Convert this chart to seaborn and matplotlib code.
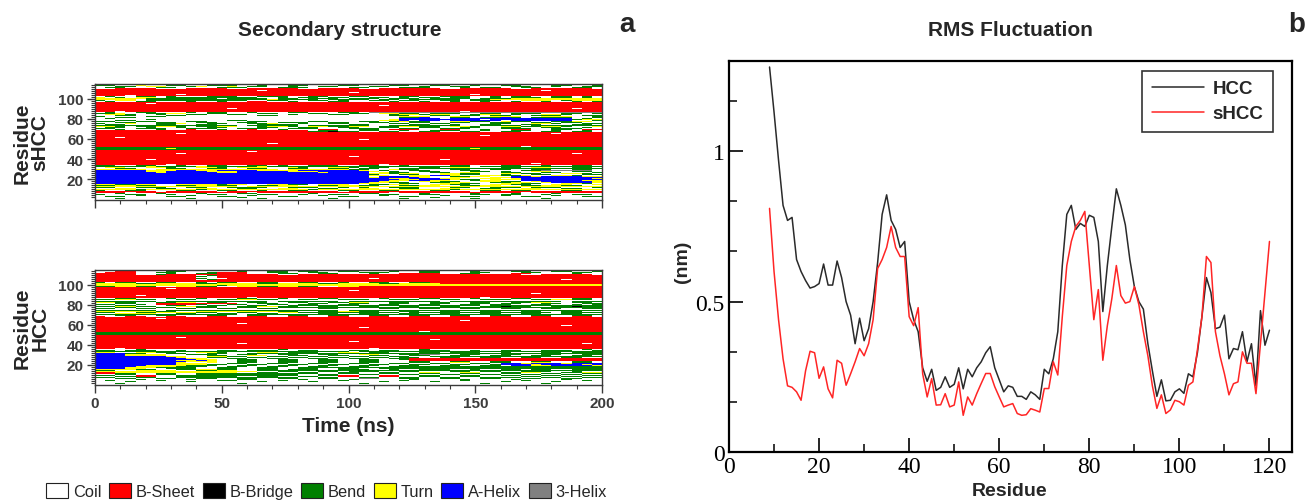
import numpy as np
import pandas as pd
import matplotlib
matplotlib.use("Agg")
import matplotlib.pyplot as plt
from matplotlib.colors import ListedColormap
from matplotlib.patches import Patch
import seaborn as sns

# ---------------------------------------------------------------- data
SS_CODES = ["C", "E", "B", "S", "T", "H", "G"]
SS_NAMES = ["Coil", "B-Sheet", "B-Bridge", "Bend", "Turn", "A-Helix", "3-Helix"]
SS_COLORS = ["#FFFFFF", "#FF0000", "#000000", "#008000", "#FFFF00", "#0000FF", "#808080"]

TIME_MAX_NS = 200
RESIDUE_TOP = 114
RESIDUE_TICKS = [20, 40, 60, 80, 100]
TIME_TICKS = [0, 50, 100, 150, 200]

# DSSP assignment per residue (first row = residue 114, last row = residue 0),
# each row holds 50 frames of 4 ns written in blocks of ten.
SHCC_ROWS = [
    "CCSCCCCCCC CCSSCCCCSC CCCCCSCCCC CSCCCCCCSC CCCSCCCCCS",  # 114
    "SSCCTCCSSC CSSSCCSCCS SCCCSSCCCS SCCSSCCSCC SSCCCSSCCS",
    "CCSSCTTCCS TCCTCSSCCS CCSSCCCSSC CCSCCSSCCC CSSCCSCCSS",
    "CSSCCCSSCC CCSSSCCCSS SCCCCSSCCC SSSCCCSCSS CCSSCCCSSC",
    "CCEEEECCCE EEECCEEEEE CCEEEECCEE EEEECCEEEE ECCEEEEEEC",  # 110
    "EEEEEEEEEE EEEEEEEEEE EEEEEEEEEE EEEEEEEEEE EEEEEEEEEE",
    "EEEEEEEEEE EEEEEECEEE EEEEEEEEEE EEEEEEEEEE EEEECEEEEE",
    "EEEEEEEEEE EEEEEEEEEE EEEEEEEEEE EEEEEEEEEE EEEEEEEEEE",
    "EEEEEEEEEE EEEEEEEEEE EEEEECEEEE EEEEEEEEEE EEEEEEEEEE",
    "EEEEEEEEEE EEEEEEEEEE EEEEEEEEEE EEEEEEEEEE EEEEEEEEEE",  # 105
    "EEEEEEEECE EEEEEEEEEE EEEEEEEEEE EEEEEEECEE EEEEEEEEEE",
    "EEECEEEEEE EEEEEEEEEE EEEEEEEEEE EEEEEEEEEE EEEEEEEEEE",
    "CSCCSSCSCC CSSSCCSSSC CSSCCSSCCC SSCCSSSCCS CSSCCSSCSC",
    "TCSCTTCSSS SSSSSSCCSC SSCSSCCSSC SCSSCSSCCS CSSSCSSCSC",
    "TTTTTSSSSS SSCSSSSCSS CSSSCSSSCS SSCSSSSCSS STTTTTTTTT",  # 100
    "TTTTCSSSSS SSSSSSSTSS SSCSSSSCSS CSSSSSCSST TTTTTTTTTT",
    "SCTTCSSSSS SSSSSCCSSC CSSCSCCSSC SSCCSSCSSS CCTTTCSTTT",
    "CSCCSSCCCS CCSCCEECCS CCCSSCCCCS CCSCCSCCSC CSCCSCCSCS",
    "EEEEEEEEEE EEEEEEEEEE EEEEEEEEEE EEEEEEEEEE EEEEEEEEEE",
    "EEEEECEEEE EEEEEEEEEE EEEEEEEEEE EEEEEEEEEE EEEEEEEEEE",  # 95
    "EEEEEEEEEE EEEEEEEEEE EEEEEEEEEE EEEEEEEEEE EEEEEEEEEE",
    "EEEEEEEEEE EEEEEEEEEE EEEEEEEECE EEEEEEEEEE EEEEEEEEEE",
    "EEEEEEEEEE EEEEEEEEEE EEEEEEEEEE EEEEEEEEEE EEEEEEEEEE",
    "EEEEEEEEEE EEEEEEEEEE EEEEEEEEEE EEEEEEEEEE EEEEEEEEEE",
    "EEEEEEEEEE EEECEEEEEE EEEEEEEEEE EEEEEEEEEE EEEEEEECEE",  # 90
    "EEEEEEEEEE EEEEEEEEEE EEEEEEEEEE EEEEEEEEEE EEEEEEEEEE",
    "EEEEEEEEEE EEEEEEEEEE EEEEEEEEEE EEEEEEEEEE EEEEEEEEEE",
    "EECEEEEEEE EEEEEEEEEE EEEEEEEEEE EEEEEECEEE EEEEEEEEEE",
    "CSCCSSCCCS CSSCCSCCCS SCCCSSCGGG GGGGGGGGGG GGGGGGGGGG",
    "SSTCCSSTTC CSSCCCSSCC CSSCCSSCTT SSCSSSCCSS CSSSCCSSCS",  # 85
    "CTTSCCSCCS SCCSSCCCCS CCCSSCCCCS TTSTTCCSTT CSCCTTSCCC",
    "CCSSCCCSSC CCCCCCSSCC CCCCCCCCCS SCCSSCSSCS SCCSSSCCSS",
    "SCCCCSSCCC CCCCCCCCCC CCCCCCCCCC TTTCCTTCCT TTCCTTTCCS",
    "CCSSCCCCCC CCCCCCCCCC CCCCCCCCCC SSHCCSSCSS HSCSSSSCCS",
    "CSCCCCCCCC CCCCCCCCCC CCCCCCCCCC HHHHCHHHHH HHHHHHHCSC",  # 80
    "CCCCCSCCCC CCCCCCCCCC CCCCCCCCCT HHHHHHHHCH HHHHHHHSTT",
    "CCSSCCCCCC CCCSSCCCCC CCCCCCCCTT HCHHCHHHHH CHHHHHHCCS",
    "SSCCSSCCCS SCCCCSSCCC CSSCCCSSCS TSSCCTTSSC TSSCCSSTTC",
    "CCSSCCSSCC SSCCSSCCSS SCCSSCCSSC CSSCCSSCCS SCCSSCSSCC",
    "SCCTCCSSTC CSSCCSSTCC SCCSSCCCCS SCCSSCCCCS SCCTTSCCSS",  # 75
    "CSSCCCSSCC SSCCCCSSSS CCCCCSSCCC CSSCCSCCSS CCSSCCCSSC",
    "SSSSSSSSSS SSSSCSSSSS CSSSSSSCCS SSSSSSCCSS SSCSSSSSSS",
    "TTSCSSTTSC SSTTCCSTTS CTTSSTTCSS TTSSCTTSCC TTSSTTSCCT",
    "CSSCCSCCSC CSSCCCSSCC SSCCSSCCSS CCSSCCSSCC SSCCSSCCSC",
    "SSCCSSSCCS SSCCSSSCCS SSCCCSSSCC SSCCSSSCCC SSSCCSSSCC",  # 70
    "CCSCCCSCCE CCSCCECCSC CCEECCSSCE EECCEECCSC CEECCSSCEE",
    "EEEEEEEEEE EEEEEEEEEE ECSSCCSSCC SCCSSSCCSC CSSCCSCCSC",
    "EEEEEEEEEE EEEEEEEEEE ESSBSSCCSS CCSSCCSSCC SSCCSSCSSC",
    "EEEEEEEEEE EEEEEEEEEE EEEEEEEEEE EEEEEEEEEE EEEEEEEEEE",
    "EEEEEEEECE EEEEEEEEEE EEEEEEEEEE EEEEEEEEEE EEEEECEEEE",  # 65
    "EEEEEEEEEE EEEEEEEEEE EEEEEEEEEE EEEEEEEEEE EEEEEEEEEE",
    "EEEEEEEEEE EEEEEEEEEE EEEEEEEEEE EEEEEEEECE EEEEEEEEEE",
    "EEEEEEEEEE EEEEEEEEEE EEEEEEEEEE EEEEEEEEEE EEEEEEEEEE",
    "EECEEEEEEE EEEEEEEEEE EEEEEEEEEE EEEEEEEEEE EEEEEEEEEE",
    "EEEEEEEEEE EEEEEEEEEE EEEEEEEEEE EEEEEEEEEE EEEEEEEEEE",  # 60
    "EEEEEEEEEE EEEEEEEEEE EEEEEECEEE EEEEEEEEEE EEEEEEEEEE",
    "EEEEEEEEEE EEEEEEEEEE EEEEEEEEEE EEEEEEEEEE EEEEEEEEEE",
    "EEEEEEEEEE EEEEEEEEEE EEEEEEEEEE EEEEEEEEEE EEEEEEEEEE",
    "EEEEEEEEEE EEEEEEECEE EEEEEEEEEE EEEEEEEEEE EEEEEEEEEE",
    "EEEEEEEEEE EEEEEEEEEE EEEEEEEEEE EEEEEEEEEE EEEEEEEEEE",  # 55
    "EEEEEEEEEE EEEEEEEEEE EEEEEEEEEE EEEEEEEEEE EEEEEEEEEE",
    "EEEEEEEEEE EEEEEEEEEE EEEEEEEEEE EEEEEEEEEE EECEEEEEEE",
    "SSSSSSSSSS SSSSSSSSSS SSSSSSSSSS SSSSSSSSSS SSSSSSSSSS",
    "SSSSSSSTSS SSSSSSSSSS SSSSSSSSSS SSSSSSSTSS SSSSSSSSSS",
    "SSSSSSSSSS SSSSSSSSSS SSSSSSSSSS SSSSSSSSSS SSSSSSSSSS",  # 50
    "EEEEEEEEEE EEEEEEEEEE EEEEEEEEEE EEEEEEEEEE EEEEEEEEEE",
    "EEEEEEEEEE EEEEECEEEE EEEEEEEEEE EEEEEEEEEE EEEEEEEEEE",
    "EEEEEEEEEE EEEEEEEEEE EEEEEEEEEE EEEEEEEEEE EEEEEEEEEE",
    "EEEEEEEECE EEEEEEEEEE EEEEEEEEEE EEEEEEEEEE EEEEEEECEE",
    "EEEEEEEEEE EEEEEEEEEE EEEEEEEEEE EEEEEEEEEE EEEEEEEEEE",  # 45
    "EEEEEEEEEE EEEEEEEEEE EEEEEEEEEE EEEEEEEEEE EEEEEEEEEE",
    "EEEEEEEEEE EEEEEEEEEE EEEEECEEEE EEEEEEEEEE EEEEEEEEEE",
    "EEEEEEEEEE EEEEEEEEEE EEEEEEEEEE EEEEEEEEEE EEEEEEEEEE",
    "EEEEEEEEEE EEEEEEEEEE EEEEEEEEEE EEEEEEEEEE EEEEEEEEEE",
    "EEEEECEEEE EEEEEEEEEE EEEEEEEEEE EEEECEEEEE EEEEEEEEEE",  # 40
    "EEEEEEEEEE EEEEEEEEEE EEEEEEEEEE EEEEEEEEEE EEEEEEEEEE",
    "EEEEEEEEEE EEEEEEEEEE EEEEEEEEEE EEEEEEEEEE EEEEEEEEEE",
    "EEEEEEEEEE EEEEEEEEEE EEEEEEEEEE EEEEEEEEEE EEEEEEEEEE",
    "EEEEEEEEEE EEEEEEEEEE EEEEEEEEEE EEEEEEEEEE EEECEEEEEE",
    "EEEEEEECEE EEEEEEEEEE EEEEEEEECE EEEEEEEEEE EEEEEEEEEE",  # 35
    "SSCCSSCCSC CSSCCSSCSC CSSSCCSSCC SCCCCSSCCC SSCCSCCSSC",
    "SSSSSTSSSS TSSSSSTSSS SSSSSSSSSS SSSSSSSCSS SSSSSSSSSS",
    "CTTCCTTSCC TTSCTTTCCT SCCTTSCSSC CCSSCTTCCC SSCTTCCSSC",
    "CCSSCCCSSC CSSCCSSCCS SCCSSCSSCC SSSSSSSSSS SSSSSSSSSS",
    "TTTTTCTTTT TTTTTTTTCT TTTTTSSCCT SSCCCSSCCS SCCSSCCSSC",  # 30
    "HHHHHTTTHH TTHHHHTTTT HHHHHHTCSC CSSCCCSSCC CCSSGGGGGC",
    "HHHHHTTHHH HTTTHHHHHT TTHHHHHTCS CCSSCCCSSC SCCTTCCSSC",
    "HHHHHHTHHH HHTTHHHHHH HHTHHHHCTS SCCSSCTTCC SSCCSSCCCS",
    "HHHHHHHHHH HHHHHHHHHH HHHHHHHTTS TTCCTTSSCC TTSSCCTTSC",
    "HHHHHHHHHH HHHHHHHHHH HHHHHHHSCC SSCCTTSSCC SCCSSCCCSS",  # 25
    "HHHHHHHHHH HHHHHHHHHH HHHHHHHTTC CTTHHTCCTT SSTCCTTSCC",
    "HHHHHHHHHH HHHHHHHHHH HHHHHHHCHH HTTCCSSTTC CHHTHHHHTT",
    "HHHHHHHHHH HHHHHHHHHH HHHHHHHTHH HHTCCTTCCT THHHHHHHHH",
    "HHHHHHHHHH HHHHHHHHHH HHHHHHHHHT THHHTTCCTT CTHHHHHHHT",
    "HHHHHHHHHH HHHHHHHHHH HHHHHHHHHH TTHHHTSSCT TTHHHHHHHH",  # 20
    "HHHHHHHHHH HHHHHHHHHH HHHHHHHHHT THHTTCCSTT CCHHHHHHTT",
    "HHHHHHHHHH HHHHHHHHHH HHHHHHHHTT CCTTSSCCTT SSCTHHHHHT",
    "HHHHHHHHHH HHHHHHHHHH HHHHHHHTTS SCCSSTTCCS STTCTHHHHT",
    "HHHHHHHHHH HHHHHHHHHH HHHHHHTTCC SSCCTTSSCC TTSSCCTTSC",
    "TTSSTTCCTT TTSTTCCTTS SCTTTCCSST TCCTTSSCCT TSSCCTTCCT",  # 15
    "SSTTSSCCSS TTSSCCSSTT CCSSTTSSCC SSTTCCSSTT CCSSTTSSCC",
    "TTTTTTTTTT TTTTCTTTTT TTTTTTTTTT TTTTTTTTTT TTTTTTTTTT",
    "SSCCSSSCCS SCCSSSSCCS SSCCSCSCCS SSCCCSSCCS SSCSSSCCCS",
    "CCTTCCSSCC TTCCSSCCTT CCSSCCTTCC SSCCTTCCSS CCTTCCSSCC",
    "TTTTSTTTTT STTTTTTTTT TSTTTTTTTT TTTTTSTTTT TTTTTTTTTT",  # 10
    "SCCSSCCCSS CCSSCCSCCS SCCCSSCCSS CCCSSCCCSS CSSCCCSSCC",
    "EEEEEECEEE EECEEEEEEE EEEECEEEEE EEEEEEECEE EEEEEEEEEE",
    "EEECEEEEEE EEEEECEEEE EEEEEEEEEC EEEEEEEEEE EECEEEEEEE",
    "CCSCCCSCCC SCCCSSCCCC CSCCCCSSCC CCSCCCCSCC CSCCCSCCCC",
    "SCCSSCCSCC CSSCCCSSCC SCCSSCCCSS CCSSCCCSSC SSCCSCCSSC",  # 5
    "CCCCSCCCCS CCCCCSCCCC CCSCCCCCSC CCCCSCCCCC SCCCCSCCCC",
    "CSSCCCCSSC CCSSCCCCSS CCCCSSCCCC SSCCCCSSCC CCSSCCCCSS",
    "CCCCCCCCCC CCCCSCCCCC CCCCCCCCCC CCCSCCCCCC CCCCCCCCCC",
    "CCSCCCCCCS CCCCCCSCCC CCCSCCCCCC SCCCCCCSCC CCCCSCCCCC",
    "CCCCCCCCCC CCCCCCCCCC CCCCCCCCCC CCCCCCCCCC CCCCCCCCCC",  # 0
]

HCC_ROWS = [
    "CCCCSCCCCC SSCCCCCSCC CCCSCCCCCC CCSCCCCCCC SCCCCCCSCC",  # 114
    "CCEECCCSSC CCCCSCCSSC SSCCSSCCCS CCSSCCCSCC CSSCCSSCCS",
    "CEEECCSSCC CSEEECCSSC CSSCCCSSSC CCSSCCCSSC CCSSCCCSSC",
    "EEEECCCSCC SSEEECCCSS CCSSCCCSCC EEEECCSSCC CEECCCCSCC",
    "EEEECCSEEE EEEEEEEECC EEEEEEEEEE EEEEEEEEEE EECCEEEEEC",  # 110
    "EEEEEEEEEE CSEEEEEEEE EEEEEEEEEE EEEEEEEEEE EEEEEEEEEE",
    "EEEEEEEEEE SCEEEEEEEE EEEEEEEEEE EEEEEEEEEE EEEEEEEEEE",
    "EEEEEEEEEE CCEEEEEEEE EEEEEEEEEE EEEEEEEEEE EEEEEEEEEE",
    "EEEEEEEEEE SCCEEEEEEE EEEEEEECEE EEEEEEEEEE EEEEEEEEEE",
    "EEEEEEEEEE CSEEEEEEEE EEEEEEEEEE EEEEEEEEEE EEEEEECEEE",  # 105
    "EEEEEEEEEE EEEEEEEEEE EEEEEEEEEE EEEEEEEEEE EEEEEEEEEE",
    "EEEEEEEEEE EEEEEEEEEE EEEEEEEEEE EEEEEEEEEE EEEEEEEEEE",
    "SCSSCCSSCC SCSSCCSSCC SSCCSCCSSC CSSEEEEEEE EEEEEEEEEE",
    "TTTTSSTTTT SSTTTTSSTT TTSSTTTTSS TTTTEEEEEE EEEEEEEEEE",
    "TTTTTTTTTT TTTTTTTTTT TTTTTTTTTT TTTTTTTTTT TTTTTTTTTT",  # 100
    "TTTTTTTTTT TTSTTTTTTT TTTTTTTTTT TTTTTTTTTT TTTTTTTTTT",
    "SSTTSSCCTT SSCCTTSSTT SSCCTTEEEE EEEEEEEEEE EEEEEEEEEE",
    "EEEEEEEEEE EEEEEEEEEE EEEEEEEEEE EEEEEEEEEE EEEEEEEEEE",
    "EEEEEEECEE EEEEEEEEEE EEEEEEEEEE EEEEEEEEEE EEEEEEEEEE",
    "EEEEEEEEEE EEEEEEEEEE EEEEEEEEEE EEEEEEEEEE EEEEEEEEEE",  # 95
    "EEEEEEEEEE EEEEEEEEEE EEEEECEEEE EEEEEEEEEE EEEEEEEEEE",
    "EEEEEEEEEE EEEEEEEEEE EEEEEEEEEE EEEEEEEEEE EEEEEEEEEE",
    "EEEEEEEEEE EEEEEEEEEE EEEEEEEEEE EEEEEEEEEE EEEEEEEEEE",
    "EEEEEEEEEE EEEEEEEEEE EEEEEEEEEE EEEEEEEEEE EEECEEEEEE",
    "EEEEEEEEEE EEEEEEEEEE EEEEEEEEEE EEEEEEEEEE EEEEEEEEEE",  # 90
    "EEEECEEEEE EEEEEEEEEE EEEEEEEEEE EEEEEEEEEE EEEEEEEEEE",
    "EEEEEEEEEE EEEEEEEEEE EEEEEEEEEE EEEEEEEEEE EEEEEEEEEE",
    "EEEEEEEEEE EEEEECEEEE EEEEEEEEEE EEEEEEEECE EEEEEEEEEE",
    "CCSSCCCSCC SCCCSSCCSC CCSSCCCCSC CCSSCCCSCC CSSCCCCSSC",
    "SSTTSSCCSS CCSSTTSSCC SSCCSSSCCS SSCCSSCCSS SCCSSTTSSC",  # 85
    "CCCCCCCCCC CCCCCCCCCC CCCCCCCCCC CCCCCCCCCC CCCCCCCCCC",
    "SSSSSSCSSS SSSSSSSCSS SSSSCSSSSS SSSSCSSSSS SSSSSSCSSS",
    "TTSSCCSSTT CSSCCSSCCS SCCSSTTCCS SCCSSCCSSC CSSTTCCSSC",
    "CCSSCCEEEE EEEECCSSCC CSSCCSSCCS SCCSSCCSSC SSCCSSCCSS",
    "SSCCSCEEEE SCCSSCCSSC SSCCSSCCSS CCSSCCSSCS SCCSSCCSCS",  # 80
    "CCSSCCCSSC CSSCCSSCCS SSSSSSSSSS SSSSSSSSCS SSSSSSSSSS",
    "SSTTSSCCTT SSCCSSTTSS CCSSCCSSCC SSCCSSCCSS BSSCCSSBSS",
    "CCSSCCSSCC SSCCSSCCSS SSSSSSSSSS SSSSSSSSSS SSSSSSSSSS",
    "SSCCSSCCSS CCSSCCSSCC CCSSCCCCSS CCSSCCSSCC SSCCSSCCSS",
    "CCCCCCCCCC CCCCCCCCCC CCCCCCCCCC CCCCCCCCCC CCCCCCCCCC",  # 75
    "SSSSSSCSSS SSSSSSSSSS SSSSCSSSSS SSSSSSSSSS SSSSSSSSSS",
    "TTTTTTSSCC TTTTTTTTSS CCSSTTSSCC SSCCSSCCSS CCSSCCSSCC",
    "SSCCSSTTTT SSCCSSCCTT SSSSSSSSSS CSSSSSSSSS SSSSSCSSSS",
    "CCTTTTCCSS CCSSCCSSCC CCSSCCSSCC SSCCSSCCSS CCSSCCSSCC",
    "SSSSSSSSSS SSSSCSSSSS SSSSSSSSSS SSSSSSSSSS SSSSSSSSSS",  # 70
    "CCSSCCSSCC CSSCCSSCCS SCCSSCCSSC CSSCCSSCCS SCCSSCCSSC",
    "ECCEECCEEC CEECCEECCE ECCEECCEEC CEECCEECCE ECCEECCEEC",
    "EEEEEEEEEE EEEEEEEEEE EEEEEEEEEE EEEEEEEEEE EEEEEEEEEE",
    "EEEEEECEEE EEEEEEEEEE EEEEEEEEEE EEEEEEEEEE EEEEEEEEEE",
    "EEEEEEEEEE EEEEEEEEEE EEEEEEEEEE EEEEEEEEEE EEEEEEEEEE",  # 65
    "EEEEEEEEEE EEEEEEEEEE EEEEEEEEEE EEEEEECEEE EEEEEEEEEE",
    "EEEEEEEEEE EEEEEEEEEE EEEEEEEEEE EEEEEEEEEE EEEEEEEEEE",
    "EEEEEEEEEE EEEEEEEEEE EEEEEEEEEE EEEEEEEEEE EEEEEEEEEE",
    "EEEEEEEEEE EEEECEEEEE EEEEEEEEEE EEEEEEEEEE EEEEEEEEEE",
    "EEEEEEEEEE EEEEEEEEEE EEEEEEEEEE EEEEEEEEEE EEEEEEEEEE",  # 60
    "EEEEEEEEEE EEEEEEEEEE EEEEEEEEEE EEEEEEEEEE EEEEEECEEE",
    "EEEEEEEEEE EEEEEEEEEE EEEEEEEEEE EEEEEEEEEE EEEEEEEEEE",
    "EEEEEEEEEE EEEEEEEEEE EEEEEECEEE EEEEEEEEEE EEEEEEEEEE",
    "EEEEEEEEEE EEEEEEEEEE EEEEEEEEEE EEEEEEEEEE EEEEEEEEEE",
    "EEEEEEEEEE EEEEEEEEEE EEEEEEEEEE EEEEEEEEEE EEEEEEEEEE",  # 55
    "EEEEEEEEEE EEEEEEEEEE EEEEEEEEEE EEEEEEEEEE EEEEEEEEEE",
    "EEEEEEEEEE EEEEEEEEEE EEEEEEEEEE EECEEEEEEE EEEEEEEEEE",
    "SSSSSSSSSS SSSSSSSSSS SSSSSSSSSS SSSSSSSSSS SSSSSSSSSS",
    "SSSSSSSSSS SSSSSSSSSS SSSSSSSSSS SSSSSSSSSS SSSSSSSSSS",
    "SSSSSSSSSS SSSSSSSSSS SSSSSSSSSS SSSSSSSSSS SSSSSSSSSS",  # 50
    "EEEEEEEEEE EEEEEEEEEE EEEEEEEEEE EEEEEEEEEE EEEEEEEEEE",
    "EEEEEEEEEE EEEEEEEEEE EEEEEEEEEE EEEEEEEEEE EEEEEEEEEE",
    "EEEEEEEECE EEEEEEEEEE EEEEEEEEEE EEEEEEEEEE EEEEEEEEEE",
    "EEEEEEEEEE EEEEEEEEEE EEEEEEEEEE EEEEEEEEEE EEEEEEEEEE",
    "EEEEEEEEEE EEEEEEEEEE EEEEEEEEEE EEECEEEEEE EEEEEEEEEE",  # 45
    "EEEEEEEEEE EEEEEEEEEE EEEEEEEEEE EEEEEEEEEE EEEEEEEEEE",
    "EEEEEEEEEE EEEEEEEEEE EEEEECEEEE EEEEEEEEEE EEEEEEEEEE",
    "EEEEEEEEEE EEEEEEEEEE EEEEEEEEEE EEEEEEEEEE EEEEEEEEEE",
    "EEEEEEEEEE EEEECEEEEE EEEEEEEEEE EEEEEEEEEE EEEEEEEECE",
    "EEEEEEEEEE EEEEEEEEEE EEEEEEEEEE EEEEEEEEEE EEEEEEEEEE",  # 40
    "EEEEEEEEEE EEEEEEEEEE EEEEEEEEEE EEEEEEEEEE EEEEEEEEEE",
    "EEEEEEEEEE EEEEEEEEEE EEEEEEEEEE EEEEEEEEEE EEEEEEEEEE",
    "EEEEEEEEEE EEEEEEEEEE EEEEEEEEEE EEEEEEEEEE EEEEEEEEEE",
    "EECEEEEEEE EEEEEEEEEE EEEEEEECEE EEEEEEEEEE EEEEEEEEEE",
    "CCCCSCCCCC CCCCCCCCSC CCCCCCCCCC CCSCCCCCCC CCCCCCCCSC",  # 35
    "SSCSSSCCSC CCSSCSSSCC SSCCCSSCSS CCSSSCCSCC SSCCSSSCCS",
    "SSSSSSSSSS SSSSSSSSSS SSSSSCSSSS SSSSSSSSSS SSSSSSSSSS",
    "TTCCTTSSCC TTSCCCTTCS SSCCTTCSSC CCSSCSSSCC SCCCSSCSSS",
    "HHHSSCCSSC CSSCCSSSSS SSSSSSSSSS SSSSSSSSSS SSSSSSSSSS",
    "HHHTTTTCCS SSCCSSCCSS CCSSCCTTCC SSGGCCSSCC SSCCSSCCSS",  # 30
    "HHHTTTTCCC CSSCCTTCCS SCCSSCCSSC CSSCCSSCCS SCCSSCCSSC",
    "HHHHHHHTTC CTTSSCCSSC CSSCCSSCCS SCCSSSSSSS SSSSSSSSSS",
    "HHHHHHHHTC CSSCCSSCCS SCCSSCCSSC SSCCSSCCSS CCSSCCSSCC",
    "HHHHHHHHHT TCCSSCCSSC CSSCCSSCCS SEEEEEEEEE EEEEEEEEEE",
    "HHHHHHHHHH TTCCSSCCSS CCSSCCSSCC SEEEEEEEEE EEEEEEEEEE",  # 25
    "HHHHHHHHTT HTCCSSCCSS CCSSCCSSCC CEEEEEEEEE EEEEEEEEEE",
    "HHHHHHHHHT TTCCSSCCSS CCSSCCSSCC CSSCCSSCCS SCCSSCCSSC",
    "HHHHHHHHTC CTCCSSCCSS CCSSCCSSCC CSSCCTTCCS SCCTTCCSSC",
    "HHHHHHHHTT TCCSSCCSSC CSSCCSSCCS SCCSSCCSSC HHTHHHTHHH",
    "HHHHHHHHTT TSSCCSSCCS SCCSSCCSSC CSSCCSSCCS HHHTHHHHTH",  # 20
    "HHHHHTTTTS SSCCSSCCSS CCSSCCSSCC SSCCSSCCSS CHHTTHHHHT",
    "HHHHTTTTSS SCCSSCCSSC CSSCCSSCCS SSSSSSSSSS SSSSSSSSSS",
    "HHHTTTSSSS CCSSCCSSCC SSSSSSSSSS SSSSSSSSSS SSSSSSSSSS",
    "HHHTTCCSSS CCSSCCSSCC SSCCSSCCSS SSSSSSSSSS SSSSSSSSSS",
    "TTTTSSCCSS TTSSCCSSCS SSCCSSSCCS CCSSSCCSCC SSCSSCCSSS",  # 15
    "SSCCTTTTCC SSTTCCSSSS SSSSSSSSSS SSSSSSSSSS SSSSSSSSSS",
    "TTTTTTTTTT TTTTTTCCSS CCSSCSSSCC SSCCCSSCSS CCSSSCCSCC",
    "EETTTTTTTT TTTTCCSSCC SSCCSSCCSS CCTTCCTTCC SSTTCCSSTT",
    "EESSCCSSCC SSSSSSSSSS SSCCSSCCSS CCSSCCSSCC SSCCSSCCSS",
    "CCSSCCSSCC SSSSSSSSSS CCSSCCSSCC SSCCSSCCSS CCSSCCSSCC",  # 10
    "SSCCEECCSS SSSSSSSSSS CCSSEECCEE CCSSCCSSCC SSCCSSCCSS",
    "CCSSEECCSS SSSSCCSSCC SSCCEECCEE CCSSCCSSCC CCSSCCSSCC",
    "SSCCSSCCSS SSSSSSSSSS CCSSCCSSCC SSCCSSCCSS SSCCSSCCSS",
    "CCSSCCSSCC SSCCSSCCSS CCSSCCGGCC SSCCSSCCSS CCSSCCSSCC",
    "CCCCSCCCCS CCCCSSCCCC SCCCCSCCCC CSCCCCSCCC CSCCCCSCCC",  # 5
    "CSCCCCSCCC CCSSCCCCSC CCCCSCCCCC SCCCCCSCCC CCSCCCCCSC",
    "CCCSCCCCCS CCCCCCSCCC CSCCCCCCSC CCCSCCCCCC SCCCCSCCCC",
    "CCCCCCCCCC CCCCCCCCCC CCCCCCCCCC CCCCCCCCCC CCCCCCCCCC",
    "CCSCCCCCCC CCCCSCCCCC CCCCCCSCCC CCCCCCCCSC CCCCSCCCCC",
    "CCCCCCCCCC CCCCCCCCCC CCCCCCCCCC CCCCCCCCCC CCCCCCCCCC",  # 0
]

# RMS fluctuation per residue (nm), residues 9-120
RMSF_RESIDUES = list(range(9, 121))
RMSF_HCC = [
    1.28, 1.13, 0.97, 0.82, 0.77, 0.78, 0.64, 0.60, 0.57, 0.545,
    0.55, 0.56, 0.625, 0.555, 0.555, 0.635, 0.58, 0.50, 0.455, 0.36,
    0.445, 0.37, 0.41, 0.50, 0.63, 0.79, 0.855, 0.77, 0.74, 0.68,
    0.70, 0.50, 0.44, 0.40, 0.28, 0.235, 0.275, 0.205, 0.215, 0.25,
    0.215, 0.225, 0.28, 0.21, 0.275, 0.25, 0.28, 0.30, 0.33, 0.35,
    0.28, 0.24, 0.20, 0.22, 0.215, 0.185, 0.185, 0.175, 0.20, 0.19,
    0.175, 0.275, 0.26, 0.31, 0.40, 0.62, 0.79, 0.82, 0.74, 0.76,
    0.75, 0.787, 0.78, 0.70, 0.467, 0.62, 0.75, 0.875, 0.82, 0.755,
    0.64, 0.55, 0.50, 0.475, 0.36, 0.27, 0.185, 0.24, 0.17, 0.172,
    0.20, 0.21, 0.195, 0.26, 0.25, 0.33, 0.45, 0.58, 0.53, 0.41,
    0.415, 0.455, 0.31, 0.344, 0.34, 0.40, 0.30, 0.36, 0.22, 0.47,
    0.355, 0.405,
]
RMSF_SHCC = [
    0.81, 0.60, 0.44, 0.31, 0.22, 0.215, 0.20, 0.172, 0.27, 0.335,
    0.33, 0.245, 0.283, 0.21, 0.18, 0.305, 0.295, 0.222, 0.26, 0.30,
    0.344, 0.32, 0.36, 0.44, 0.61, 0.64, 0.68, 0.75, 0.68, 0.65,
    0.65, 0.45, 0.42, 0.48, 0.26, 0.183, 0.244, 0.156, 0.157, 0.194,
    0.15, 0.156, 0.233, 0.122, 0.183, 0.156, 0.194, 0.228, 0.261, 0.261,
    0.217, 0.183, 0.15, 0.156, 0.161, 0.128, 0.122, 0.124, 0.144, 0.139,
    0.133, 0.211, 0.211, 0.30, 0.256, 0.45, 0.62, 0.70, 0.75, 0.77,
    0.80, 0.62, 0.44, 0.54, 0.305, 0.42, 0.51, 0.62, 0.52, 0.495,
    0.50, 0.55, 0.49, 0.40, 0.32, 0.22, 0.145, 0.19, 0.128, 0.14,
    0.172, 0.167, 0.156, 0.222, 0.233, 0.34, 0.45, 0.65, 0.63, 0.40,
    0.32, 0.26, 0.19, 0.227, 0.233, 0.333, 0.295, 0.295, 0.194, 0.36,
    0.53, 0.70,
]

# ---------------------------------------------------------------- style
sns.set_theme(style="ticks")
plt.rcParams["font.family"] = ["Liberation Sans", "DejaVu Sans"]
plt.rcParams["axes.facecolor"] = "white"

W, H = 1309, 502
fig = plt.figure(figsize=(W / 100, H / 100), dpi=100)
fig.patch.set_facecolor("white")


def px_box(left, top, right, bottom):
    return [left / W, 1 - bottom / H, (right - left) / W, (bottom - top) / H]


ax_s = fig.add_axes(px_box(95, 85, 602, 201))
ax_h = fig.add_axes(px_box(95, 271, 602, 386))
ax_r = fig.add_axes(px_box(729, 62, 1292, 453))

ss_cmap = ListedColormap(SS_COLORS)
FRAME = "#3a3a3a"


def draw_ss(ax, rows, label_time):
    grid = []
    for k, row in enumerate(rows):
        codes = row.replace(" ", "")
        if len(codes) != 50:
            raise ValueError(f"row {k} has {len(codes)} frames")
        grid.append([SS_CODES.index(c) for c in codes])
    mat = np.array(grid)
    n_rows, n_cols = mat.shape
    ns_per_col = TIME_MAX_NS / n_cols
    sns.heatmap(mat, ax=ax, cmap=ss_cmap, vmin=-0.5, vmax=len(SS_CODES) - 0.5,
                cbar=False, xticklabels=False, yticklabels=False)
    for sp in ax.spines.values():
        sp.set_visible(True)
        sp.set_color(FRAME)
        sp.set_linewidth(1.0)
    # residue axis (rows run from RESIDUE_TOP down to 0)
    ax.set_yticks([RESIDUE_TOP + 0.5 - r for r in RESIDUE_TICKS])
    ax.set_yticklabels([str(r) for r in RESIDUE_TICKS])
    ax.set_yticks([RESIDUE_TOP + 0.5 - r for r in range(2, RESIDUE_TOP + 1, 2)
                   if r not in RESIDUE_TICKS], minor=True)
    ax.set_xticks([t / ns_per_col for t in TIME_TICKS])
    ax.set_xticklabels([str(t) for t in TIME_TICKS] if label_time else [])
    ax.set_xticks([t / ns_per_col for t in range(10, TIME_MAX_NS, 10)
                   if t not in TIME_TICKS], minor=True)
    ax.tick_params(which="major", direction="out", length=6, width=1.0,
                   color=FRAME, labelsize=11, labelcolor="#3c3c3c", pad=2,
                   left=True, bottom=True)
    ax.tick_params(which="minor", direction="out", length=3, width=0.8,
                   color=FRAME, left=True, bottom=True)
    for lab in ax.get_yticklabels() + ax.get_xticklabels():
        lab.set_fontweight("bold")
    ax.set_xlabel("")
    ax.set_ylabel("")


draw_ss(ax_s, SHCC_ROWS, label_time=False)
draw_ss(ax_h, HCC_ROWS, label_time=True)

fig.text(31 / W, 1 - 143 / H, "Residue\nsHCC", rotation=90, ha="center", va="center",
         fontsize=15, fontweight="bold", linespacing=0.95, multialignment="center")
fig.text(31 / W, 1 - 328 / H, "Residue\nHCC", rotation=90, ha="center", va="center",
         fontsize=15, fontweight="bold", linespacing=0.95, multialignment="center")
fig.text(348 / W, 1 - 427 / H, "Time (ns)", ha="center", va="center",
         fontsize=15, fontweight="bold")

legend_handles = [Patch(facecolor=c, edgecolor="#222222", linewidth=0.8) for c in SS_COLORS]
fig.legend(legend_handles, SS_NAMES, loc="center left",
           bbox_to_anchor=(46 / W, 1 - 492 / H), ncol=len(SS_NAMES), frameon=False,
           handlelength=1.35, handleheight=1.0, handletextpad=0.3, columnspacing=0.45,
           borderpad=0, borderaxespad=0,
           prop={"family": ["Liberation Sans Narrow", "Liberation Sans"], "size": 11.8})

fig.text(340 / W, 1 - 31 / H, "Secondary structure", ha="center", va="center",
         fontsize=15, fontweight="bold")
fig.text(627 / W, 1 - 25 / H, "a", ha="center", va="center", fontsize=20, fontweight="bold")

# ---------------------------------------------------------------- RMSF
n_res = len(RMSF_RESIDUES)
rmsf = pd.DataFrame({
    "Residue": RMSF_RESIDUES * 2,
    "RMSF": RMSF_HCC + RMSF_SHCC,
    "System": ["HCC"] * n_res + ["sHCC"] * n_res,
})
sns.lineplot(data=rmsf, x="Residue", y="RMSF", hue="System",
             palette={"HCC": "#2a2a2a", "sHCC": "#ff2525"}, linewidth=1.1, ax=ax_r)
ax_r.set_xlim(0, 125)
ax_r.set_ylim(0, 1.3)
ax_r.set_xticks(range(0, 121, 20))
ax_r.set_xticks(range(10, 121, 20), minor=True)
ax_r.set_yticks([0, 0.5, 1.0])
ax_r.set_yticklabels(["0", "0.5", "1"])
ax_r.set_yticks([k / 6 for k in (1, 2, 4, 5, 7)], minor=True)
ax_r.tick_params(which="major", direction="in", length=10, width=1.2, color="black",
                 labelsize=17, labelcolor="black", labelfontfamily="Liberation Serif",
                 pad=3, top=False, right=False, left=True, bottom=True)
ax_r.tick_params(which="minor", direction="in", length=6, width=1.1, color="black",
                 top=False, right=False, left=True, bottom=True)
for sp in ax_r.spines.values():
    sp.set_visible(True)
    sp.set_color("black")
    sp.set_linewidth(1.6)
ax_r.grid(False)
ax_r.set_xlabel("")
ax_r.set_ylabel("")

handles, labels = ax_r.get_legend_handles_labels()
leg = ax_r.legend(handles, labels, loc="upper right",
                  bbox_to_anchor=((1273 - 729) / 563, 1 - (72 - 62) / 391),
                  borderaxespad=0, fancybox=False, frameon=True, handlelength=2.8,
                  handletextpad=0.45, borderpad=0.5, labelspacing=0.4,
                  prop={"weight": "bold", "size": 13.5})
leg.get_frame().set_edgecolor("black")
leg.get_frame().set_linewidth(1.2)

fig.text(1010 / W, 1 - 492 / H, "Residue", ha="center", va="center",
         fontsize=14, fontweight="bold")
fig.text(683 / W, 1 - 262 / H, "(nm)", rotation=90, ha="center", va="center",
         fontsize=14, fontweight="bold")
fig.text(1010 / W, 1 - 31 / H, "RMS Fluctuation", ha="center", va="center",
         fontsize=15, fontweight="bold")
fig.text(1297 / W, 1 - 25 / H, "b", ha="center", va="center", fontsize=20, fontweight="bold")

fig.savefig("out.png", dpi=100, facecolor="white")
